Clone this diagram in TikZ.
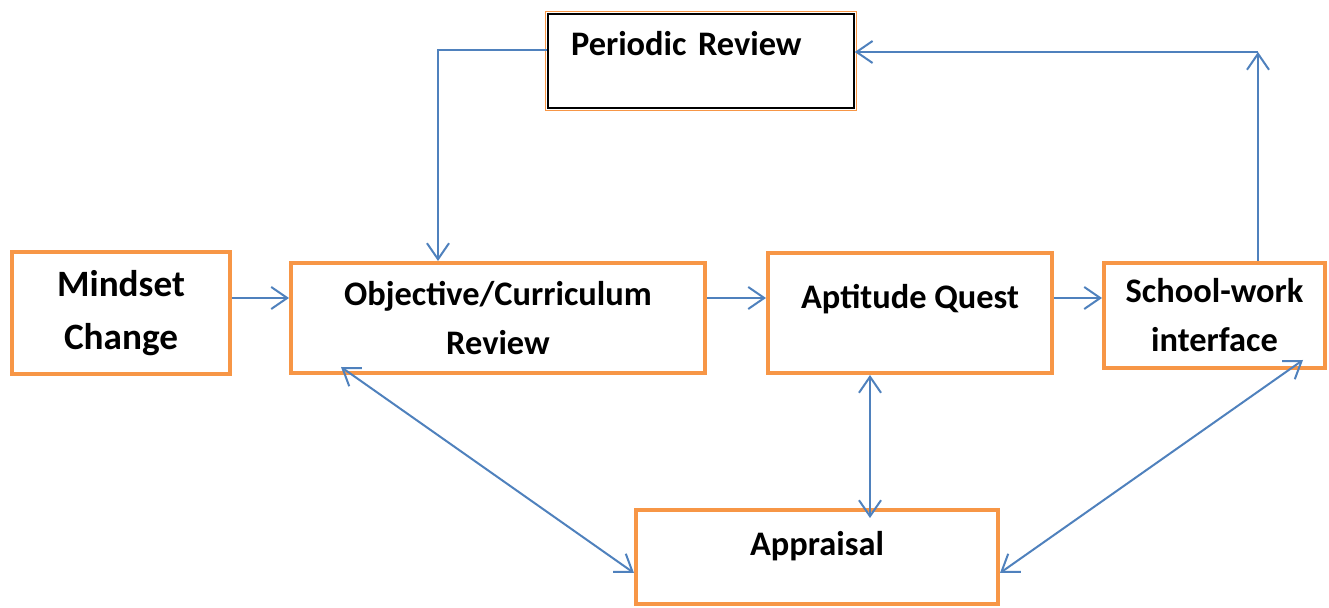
\documentclass[tikz,border=0pt]{standalone}
\usepackage{fontspec}
\setmainfont{Carlito}
\usepackage{tikz}
\usetikzlibrary{arrows.meta}
\definecolor{boxorange}{HTML}{F79646}
\definecolor{linkblue}{HTML}{4F81BD}

\tikzset{
  box/.style={draw=boxorange, line width=2pt, fill=white, align=center,
    font=\fontsize{17.2}{24.5}\selectfont\bfseries},
  flow/.style={draw=linkblue, line width=1pt, -{Straight Barb[length=8pt,width=11pt]}},
  twoway/.style={flow, {Straight Barb[length=8pt,width=11pt]}-{Straight Barb[length=8pt,width=11pt]}}
}

\begin{document}
\begin{tikzpicture}[x=0.5pt,y=-0.5pt]
\useasboundingbox (0,0) rectangle (1329,608);

% boxes
\node[box, minimum width=109pt, minimum height=61pt, font=\fontsize{18.6}{26.5}\selectfont\bfseries] (mind) at (121,313) {Mindset\\Change};
\node[box, minimum width=207pt, minimum height=55pt] (obj) at (498,318) {Objective/Curriculum\\Review};
\node[box, minimum width=142pt, minimum height=60pt, text height=13pt, text depth=17pt] (apt) at (910,313) {Aptitude Quest};
\node[box, minimum width=110.5pt, minimum height=52.5pt] (school) at (1214.5,315.5) {School-work\\interface};
\node[box, minimum width=181pt, minimum height=47pt, text height=13pt, text depth=14pt] (app) at (817,557) {Appraisal};
\node[box, draw=black, line width=0.8pt, minimum width=153pt, minimum height=47pt,
  text width=130pt, inner xsep=11.5pt, align=left, text height=13pt, text depth=18pt] (per) at (701,61) {\mbox{Periodic Review}};
\draw[boxorange, line width=0.9pt] ([shift={(-0.85pt,0.85pt)}]per.north west) rectangle ([shift={(0.85pt,-0.85pt)}]per.south east);

% links
\coordinate (turn) at (1258,52);
\draw[flow] ([yshift=7.5pt]mind.east) -- ([yshift=10pt]obj.west);
\draw[flow] ([yshift=10pt]obj.east) -- ([yshift=7.5pt]apt.west);
\draw[flow] ([yshift=7.5pt]apt.east) -- ([yshift=8.75pt]school.west);
\draw[flow] ([yshift=5.5pt]per.west) -| ([xshift=-30pt]obj.north);
\draw[flow] ([xshift=21.75pt]school.north) -- (turn);
\draw[flow] (turn) -- ([yshift=4.5pt]per.east);
\draw[twoway] ([xshift=-78.5pt,yshift=4pt]obj.south) -- ([yshift=-8pt]app.west);
\draw[twoway] ([xshift=-20pt]apt.south) -- ([xshift=26.5pt,yshift=-5pt]app.north);
\draw[twoway] ([xshift=44.25pt,yshift=5pt]school.south) -- ([yshift=-8pt]app.east);
\end{tikzpicture}
\end{document}
